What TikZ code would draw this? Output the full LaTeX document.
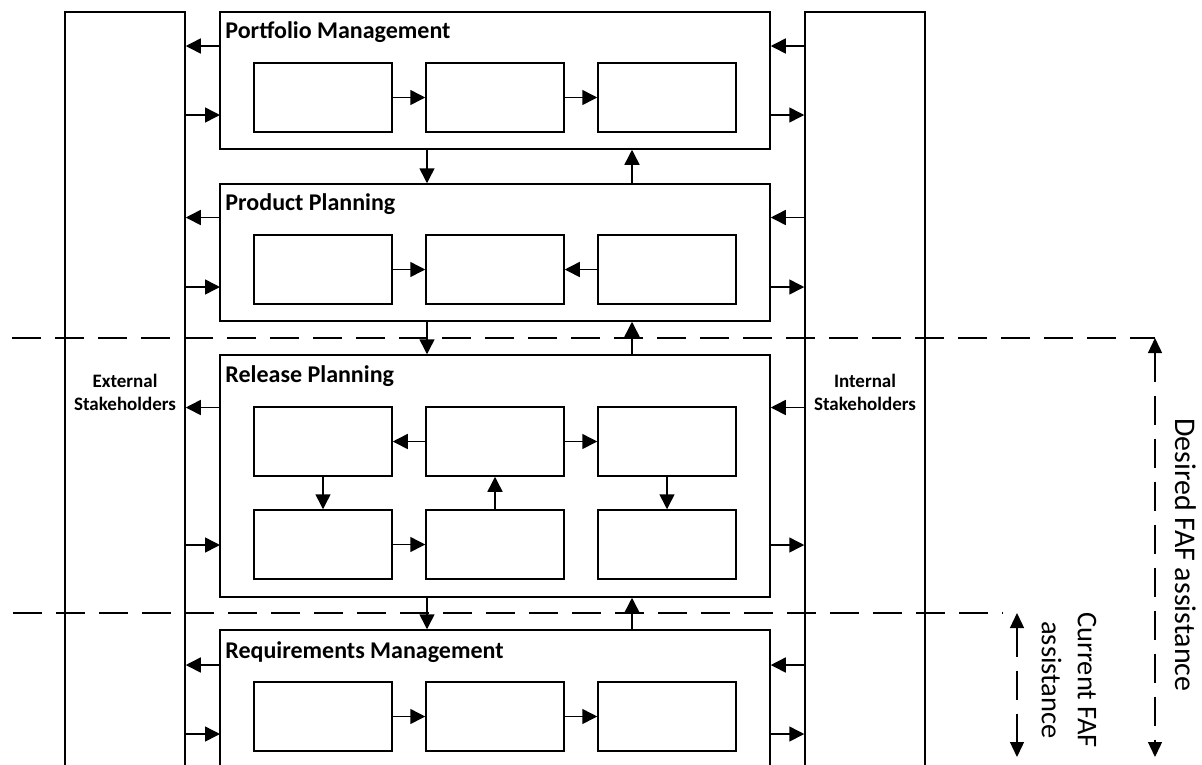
\documentclass[tikz,border=0pt]{standalone}
\usepackage{fontspec}
\setmainfont{Carlito}
\usetikzlibrary{arrows.meta}

\begin{document}
\begin{tikzpicture}[x=1pt,y=-1pt,
  frame/.style={draw, line width=1.5pt, inner sep=0pt, minimum width=550pt},
  task/.style={draw, line width=1.5pt, inner sep=0pt, minimum width=138pt, minimum height=69pt},
  party/.style={draw, line width=1.5pt, inner sep=0pt, minimum width=120pt, minimum height=790pt},
  flow/.style={line width=1.5pt, -{Triangle[length=15pt,width=15pt]}},
  title/.style={anchor=base west, inner sep=0pt, font=\fontsize{24}{29}\selectfont\bfseries},
  partylabel/.style={inner sep=0pt, align=center, font=\fontsize{19}{23}\selectfont\bfseries},
  boundary/.style={line width=1.3pt, dash pattern=on 29pt off 14pt},
  span/.style={line width=1.3pt, dash pattern=on 29pt off 14pt,
    {Triangle[length=15pt,width=14pt]}-{Triangle[length=15pt,width=14pt]}},
  scopelabel/.style={inner sep=0pt, align=center, rotate=-90}
]
\clip (0,0) rectangle (1202,764);

% stakeholder columns
\node[party] (ext) at (125,407) {};
\node[party] (int) at (865,407) {};
\node[partylabel] (extlbl) at (125,392) {External\\Stakeholders};
\node[partylabel] (intlbl) at (865,392) {Internal\\Stakeholders};

% planning levels
\node[frame, minimum height=137pt] (pm) at (495,80.5) {};
\node[frame, minimum height=137pt] (pp) at (495,252.5) {};
\node[frame, minimum height=242pt] (rp) at (495,476) {};
\node[frame, minimum height=170pt] (rm) at (495,715) {};

\node[title] (pmt) at ([xshift=6pt,yshift=-27pt]pm.north west) {Portfolio Management};
\node[title] (ppt) at ([xshift=6pt,yshift=-27pt]pp.north west) {Product Planning};
\node[title] (rpt) at ([xshift=6pt,yshift=-28pt]rp.north west) {Release Planning};
\node[title] (rmt) at ([xshift=6pt,yshift=-29pt]rm.north west) {Requirements Management};

% activities
\node[task] (a1) at (323,97.5) {};
\node[task] (a2) at (495,97.5) {};
\node[task] (a3) at (667,97.5) {};
\node[task] (b1) at (323,269.5) {};
\node[task] (b2) at (495,269.5) {};
\node[task] (b3) at (667,269.5) {};
\node[task] (c1) at (323,441.5) {};
\node[task] (c2) at (495,441.5) {};
\node[task] (c3) at (667,441.5) {};
\node[task] (d1) at (323,544.5) {};
\node[task] (d2) at (495,544.5) {};
\node[task] (d3) at (667,544.5) {};
\node[task] (e1) at (323,716.5) {};
\node[task] (e2) at (495,716.5) {};
\node[task] (e3) at (667,716.5) {};

% flows inside the levels
\draw[flow] (a1) -- (a2);
\draw[flow] (a2) -- (a3);
\draw[flow] (b1) -- (b2);
\draw[flow] (b3) -- (b2);
\draw[flow] (c2) -- (c1);
\draw[flow] (c2) -- (c3);
\draw[flow] (c1) -- (d1);
\draw[flow] (d2) -- (c2);
\draw[flow] (c3) -- (d3);
\draw[flow] (d1) -- (d2);
\draw[flow] (e1) -- (e2);
\draw[flow] (e2) -- (e3);

% exchange points with the stakeholders
\coordinate (pm-o) at (220,46);
\coordinate (pm-i) at (220,115);
\coordinate (pp-o) at (220,217.5);
\coordinate (pp-i) at (220,287);
\coordinate (rp-o) at (220,407.5);
\coordinate (rp-i) at (220,545);
\coordinate (rm-o) at (220,665);
\coordinate (rm-i) at (220,734);

\foreach \g in {pm,pp,rp,rm}{
  \draw[flow] (\g-o) -- (\g-o -| ext.east);
  \draw[flow] (\g-i -| ext.east) -- (\g-i);
  \draw[flow] (\g-o -| int.west) -- (\g-o -| \g.east);
  \draw[flow] (\g-i -| \g.east) -- (\g-i -| int.west);
}

% flows between the levels
\coordinate (dnx) at (427,0);
\coordinate (upx) at (632,0);
\draw[flow] (pm.south -| dnx) -- (pp.north -| dnx);
\draw[flow] (pp.north -| upx) -- (pm.south -| upx);
\draw[flow] (pp.south -| dnx) -- (rp.north -| dnx);
\draw[flow] (rp.north -| upx) -- (pp.south -| upx);
\draw[flow] (rp.south -| dnx) -- (rm.north -| dnx);
\draw[flow] (rm.north -| upx) -- (rp.south -| upx);

% scope of assistance
\coordinate (cut1w) at (12,338);
\coordinate (cut1e) at (1155,338);
\coordinate (cut2w) at (13,613);
\coordinate (cut2e) at (1003,613);
\coordinate (desbot) at (1155,757);
\coordinate (curtop) at (1017,613);
\coordinate (curbot) at (1017,757);

\draw[boundary] (cut1w) -- (cut1e);
\draw[boundary] (cut2w) -- (cut2e);
\draw[span] (cut1e) -- (desbot);
\draw[span] (curtop) -- (curbot);

\node[scopelabel, anchor=base, font=\fontsize{30}{36}\selectfont] (deslbl) at (1175,555) {Desired FAF assistance};
\node[scopelabel, font=\fontsize{28.5}{36}\selectfont] (curlbl) at (1069,680) {Current FAF\\assistance};
\end{tikzpicture}
\end{document}
